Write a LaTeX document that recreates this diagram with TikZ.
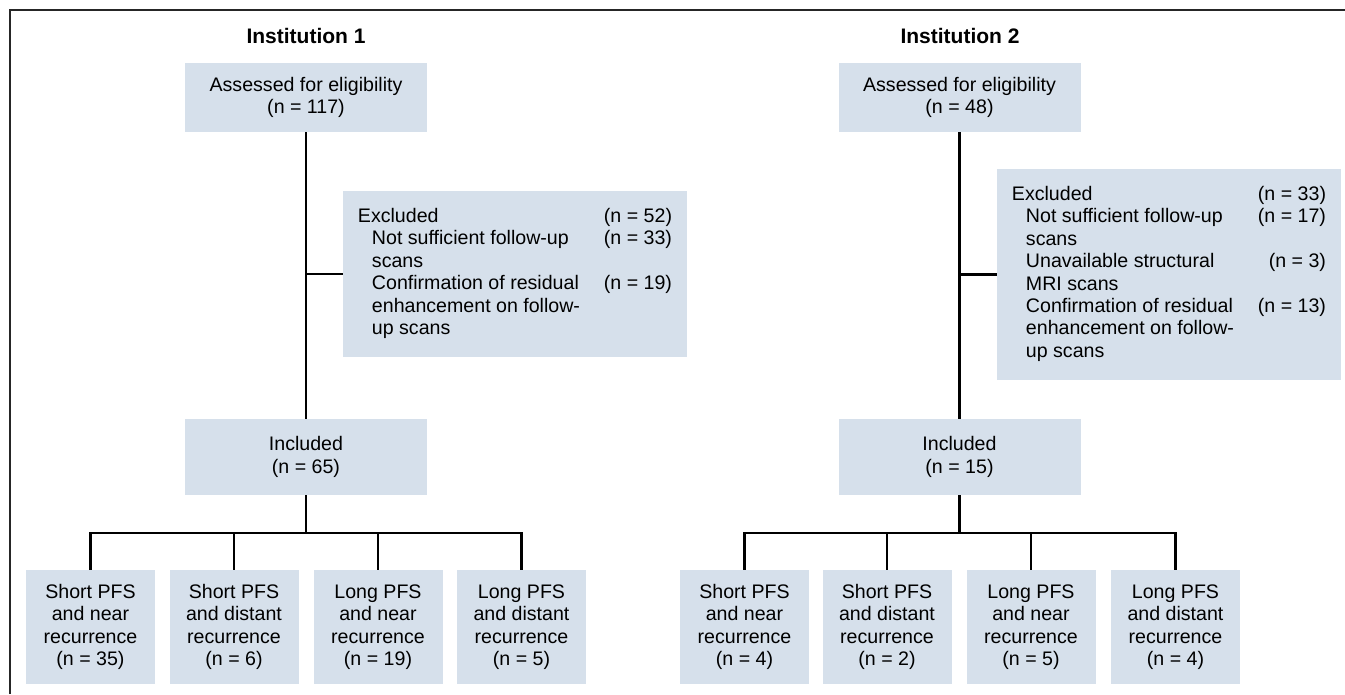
\documentclass[tikz,border=0pt]{standalone}
\usepackage{fontspec}
\setmainfont{Liberation Sans}
\definecolor{boxfill}{RGB}{214,224,235}
\begin{document}
\begin{tikzpicture}[x=1pt,y=-1pt,
  box/.style={fill=boxfill, inner sep=0pt, align=center, font=\fontsize{19.6}{22.4}\selectfont},
  topbox/.style={box, minimum width=242pt, minimum height=69pt},
  inclbox/.style={box, minimum width=242pt, minimum height=76pt},
  exclbox/.style={box, minimum width=344pt},
  leafbox/.style={box, minimum width=129pt, minimum height=114pt},
  title/.style={inner sep=0pt, font=\bfseries\fontsize{21}{24}\selectfont},
  conn/.style={line width=2.4pt, black},
  frameline/.style={line width=2pt, black!85}]
\useasboundingbox (0,0) rectangle (1345,694);
\coordinate (fa) at (9.5,694);
\coordinate (fb) at (9.5,10);
\coordinate (fc) at (1345,10);
\draw[frameline] (fa) -- (fb) -- (fc);

% Institution 1
\node[title] (t1) at (306,36) {Institution 1};
\node[topbox] (A1) at (306,97.5) {Assessed for eligibility\\(n = 117)};
\node[exclbox, minimum height=166pt] (E1) at (515,274) {\begin{tabular}{@{}p{246pt}@{}r@{}}
Excluded & (n = 52)\\
\hspace*{14pt}Not sufficient follow-up & (n = 33)\\
\hspace*{14pt}scans & \\
\hspace*{14pt}Confirmation of residual & (n = 19)\\
\hspace*{14pt}enhancement on follow- & \\
\hspace*{14pt}up scans &
\end{tabular}};
\node[inclbox] (I1) at (306,457) {Included\\(n = 65)};
\node[leafbox] (B11) at (90.5,627) {Short PFS\\and near\\recurrence\\(n = 35)};
\node[leafbox] (B12) at (234,627) {Short PFS\\and distant\\recurrence\\(n = 6)};
\node[leafbox] (B13) at (378,627) {Long PFS\\and near\\recurrence\\(n = 19)};
\node[leafbox] (B14) at (521.5,627) {Long PFS\\and distant\\recurrence\\(n = 5)};

\draw[conn] (A1.south) -- (I1.north);
\draw[conn] (A1.south |- E1.west) -- (E1.west);
\foreach \b in {B11,B12,B13,B14}
  \draw[conn] (I1.south) -- ++(0,37.5) -| (\b.north);

% Institution 2
\node[title] (t2) at (960,36) {Institution 2};
\node[topbox] (A2) at (959.5,97.5) {Assessed for eligibility\\(n = 48)};
\node[exclbox, minimum height=211pt] (E2) at (1169,274.5) {\begin{tabular}{@{}p{246pt}@{}r@{}}
Excluded & (n = 33)\\
\hspace*{14pt}Not sufficient follow-up & (n = 17)\\
\hspace*{14pt}scans & \\
\hspace*{14pt}Unavailable structural & (n = 3)\\
\hspace*{14pt}MRI scans & \\
\hspace*{14pt}Confirmation of residual & (n = 13)\\
\hspace*{14pt}enhancement on follow- & \\
\hspace*{14pt}up scans &
\end{tabular}};
\node[inclbox] (I2) at (959.5,457) {Included\\(n = 15)};
\node[leafbox] (B21) at (744.5,627) {Short PFS\\and near\\recurrence\\(n = 4)};
\node[leafbox] (B22) at (887,627) {Short PFS\\and distant\\recurrence\\(n = 2)};
\node[leafbox] (B23) at (1031,627) {Long PFS\\and near\\recurrence\\(n = 5)};
\node[leafbox] (B24) at (1175.5,627) {Long PFS\\and distant\\recurrence\\(n = 4)};

\draw[conn] (A2.south) -- (I2.north);
\draw[conn] (A2.south |- E2.west) -- (E2.west);
\foreach \b in {B21,B22,B23,B24}
  \draw[conn] (I2.south) -- ++(0,37.5) -| (\b.north);
\end{tikzpicture}
\end{document}
